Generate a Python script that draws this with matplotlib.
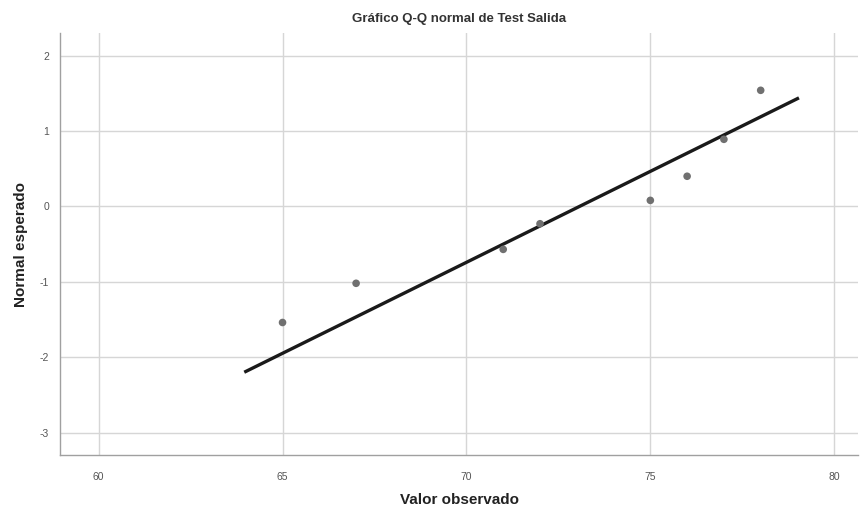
import matplotlib
matplotlib.use('Agg')
import matplotlib.pyplot as plt

plt.rcParams['font.family'] = ['Liberation Sans', 'DejaVu Sans']
plt.rcParams['axes.unicode_minus'] = False

# observed values and expected normal quantiles
observed = [65, 67, 71, 72, 75, 76, 77, 78]
expected = [-1.54, -1.02, -0.57, -0.23, 0.08, 0.40, 0.89, 1.54]

# reference line endpoints
line_x = [64, 79]
line_y = [-2.19, 1.43]

x_ticks = [60, 65, 70, 75, 80]
y_ticks = [-3, -2, -1, 0, 1, 2]

fig = plt.figure(figsize=(8.61, 5.08), dpi=100)
ax = fig.add_axes([0.0697, 0.104, 0.927, 0.831])

ax.plot(line_x, line_y, color='#1a1a1a', linewidth=2.4, zorder=3)
ax.scatter(observed, expected, s=30, color='#707070', edgecolors='none', zorder=4)

ax.set_xlim(58.95, 80.65)
ax.set_ylim(-3.3, 2.3)
ax.set_xticks(x_ticks)
ax.set_yticks(y_ticks)
ax.grid(True, color='#d6d6d6', linewidth=1.0)
ax.set_axisbelow(True)

for side in ['top', 'right']:
    ax.spines[side].set_visible(False)
for side in ['left', 'bottom']:
    ax.spines[side].set_color('#a0a0a0')
    ax.spines[side].set_linewidth(1.0)

ax.tick_params(length=0, labelsize=7.5, labelcolor='#555555', pad=12)
ax.tick_params(axis='y', pad=8)

ax.set_title('Gráfico Q-Q normal de Test Salida', fontsize=9.5, fontweight='bold',
             color='#333333', pad=8)
ax.set_xlabel('Valor observado', fontsize=11, fontweight='bold', color='#222222', labelpad=8)
ax.set_ylabel('Normal esperado', fontsize=11, fontweight='bold', color='#222222', labelpad=8)

fig.savefig('out.png', dpi=100)
